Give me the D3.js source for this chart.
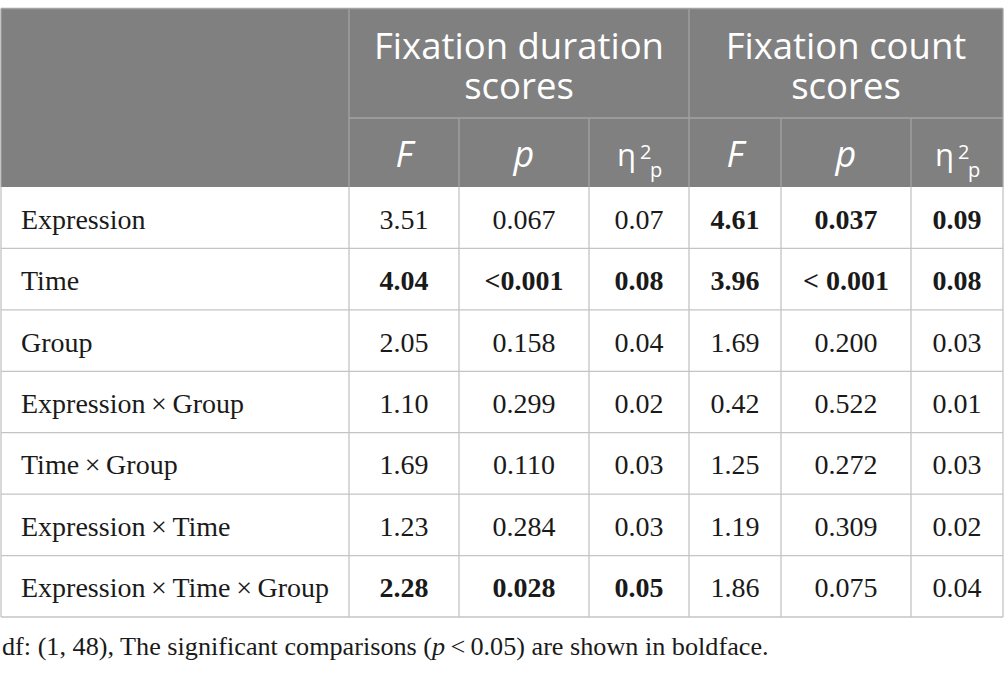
<!DOCTYPE html>
<html><head><meta charset="utf-8">
<script src="https://cdn.jsdelivr.net/npm/d3@7/dist/d3.min.js"></script>
<style>body{margin:0;background:#fff}svg{display:block}</style>
</head><body>
<svg id="c" width="1005" height="673"></svg>
<script>
const groups = ["Fixation duration scores", "Fixation count scores"];
const groupLines = [["Fixation duration", "scores"], ["Fixation count", "scores"]];
const stats = ["F", "p", "eta"];
const effects = ["Expression", "Time", "Group", "Expression\u2009×\u2009Group", "Time\u2009×\u2009Group", "Expression\u2009×\u2009Time", "Expression\u2009×\u2009Time\u2009×\u2009Group"];
const durF   = ["3.51", "4.04", "2.05", "1.10", "1.69", "1.23", "2.28"];
const durP   = ["0.067", "<0.001", "0.158", "0.299", "0.110", "0.284", "0.028"];
const durEta = ["0.07", "0.08", "0.04", "0.02", "0.03", "0.03", "0.05"];
const cntF   = ["4.61", "3.96", "1.69", "0.42", "1.25", "1.19", "1.86"];
const cntP   = ["0.037", "< 0.001", "0.200", "0.522", "0.272", "0.309", "0.075"];
const cntEta = ["0.09", "0.08", "0.03", "0.01", "0.03", "0.02", "0.04"];
const durBold = [false, true, false, false, false, false, true];
const cntBold = [true, true, false, false, false, false, false];
const footnote = "df: (1, 48), The significant comparisons (";
const footnoteRest = "\u2009<\u20090.05) are shown in boldface.";

const svg = d3.select("#c");
const L = 1, R = 1003, tabTop = 8.5, subTop = 118, headBot = 187, bodyBot = 617;
const colEdges = [349, 459, 589, 689, 781, 911, R];
const HEADBG = "#808080", HEADLINE = "#a3a3a3", BODYLINE = "#c4c4c4";

const y = d3.scaleBand().domain(effects).range([headBot, bodyBot]);
const colKeys = ["dF","dP","dE","cF","cP","cE"];
const xL = d3.scaleOrdinal().domain(colKeys).range(colEdges.slice(0,6));
const xR = d3.scaleOrdinal().domain(colKeys).range(colEdges.slice(1));
const cx = k => (xL(k) + xR(k)) / 2;

// header background
svg.append("rect").attr("x", L).attr("y", tabTop).attr("width", R - L).attr("height", headBot - tabTop).attr("fill", HEADBG);
// header lines
const hl = svg.append("g").attr("stroke", HEADLINE).attr("stroke-width", 1.3);
hl.append("line").attr("x1", L).attr("x2", R).attr("y1", tabTop).attr("y2", tabTop);
hl.append("line").attr("x1", colEdges[0]).attr("x2", R).attr("y1", subTop).attr("y2", subTop);
[colEdges[0], colEdges[3]].forEach(x => hl.append("line").attr("x1", x).attr("x2", x).attr("y1", tabTop).attr("y2", headBot));
[colEdges[1], colEdges[2], colEdges[4], colEdges[5]].forEach(x => hl.append("line").attr("x1", x).attr("x2", x).attr("y1", subTop).attr("y2", headBot));
hl.append("line").attr("x1", L).attr("x2", L).attr("y1", tabTop).attr("y2", headBot);
hl.append("line").attr("x1", R).attr("x2", R).attr("y1", tabTop).attr("y2", headBot);

// group headers
const gCenters = [(colEdges[0] + colEdges[3]) / 2, (colEdges[3] + colEdges[6]) / 2];
groups.forEach((g, i) => {
  groupLines[i].forEach((ln, j) => svg.append("text").attr("x", gCenters[i]).attr("y", 59 + j * 40)
    .attr("text-anchor", "middle").attr("font-family", "Open Sans").attr("font-size", 36.5)
    .attr("fill", "#fff").text(ln));
});

// sub headers
colKeys.forEach((k, i) => {
  const s = stats[i % 3];
  if (s === "eta") {
    const x0 = cx(k) - 22;
    svg.append("text").attr("x", x0).attr("y", 166).attr("font-family", "Open Sans").attr("font-size", 31).attr("fill", "#fff").text("η");
    svg.append("text").attr("x", x0 + 23).attr("y", 159).attr("font-family", "Open Sans").attr("font-size", 20).attr("fill", "#fff").text("2");
    svg.append("text").attr("x", x0 + 33).attr("y", 177).attr("font-family", "Open Sans").attr("font-size", 20).attr("fill", "#fff").text("p");
  } else {
    svg.append("text").attr("x", cx(k)).attr("y", 167).attr("text-anchor", "middle")
      .attr("font-family", "Open Sans").attr("fill", "#fff")
      .attr("font-size", 36).attr("font-style", "italic").text(s);
  }
});

// body lines
const bl = svg.append("g").attr("stroke", BODYLINE).attr("stroke-width", 1.3);
effects.forEach(e => bl.append("line").attr("x1", L).attr("x2", R).attr("y1", y(e) + y.bandwidth()).attr("y2", y(e) + y.bandwidth()));
[L, ...colEdges].forEach(x => bl.append("line").attr("x1", x).attr("x2", x).attr("y1", headBot).attr("y2", bodyBot));

// body text
const cols = [
  {k: "dF", v: durF, b: durBold}, {k: "dP", v: durP, b: durBold}, {k: "dE", v: durEta, b: durBold},
  {k: "cF", v: cntF, b: cntBold}, {k: "cP", v: cntP, b: cntBold}, {k: "cE", v: cntEta, b: cntBold}
];
const bodyFont = "Liberation Serif";
effects.forEach((e, r) => {
  const by = y(e) + y.bandwidth() / 2 + 11;
  svg.append("text").attr("x", 21).attr("y", by).attr("font-family", bodyFont).attr("font-size", 28).attr("fill", "#1a1a1a").text(e);
  cols.forEach(c => {
    svg.append("text").attr("x", cx(c.k)).attr("y", by).attr("text-anchor", "middle")
      .attr("font-family", bodyFont).attr("font-size", 28).attr("fill", "#1a1a1a")
      .attr("font-weight", c.b[r] ? "bold" : "normal").text(c.v[r]);
  });
});

// footnote
const fn = svg.append("text").attr("x", 2).attr("y", 655).attr("font-family", bodyFont).attr("font-size", 26.2).attr("fill", "#1a1a1a");
fn.append("tspan").text(footnote);
fn.append("tspan").attr("font-style", "italic").text("p");
fn.append("tspan").text(footnoteRest);
</script>
</body></html>
